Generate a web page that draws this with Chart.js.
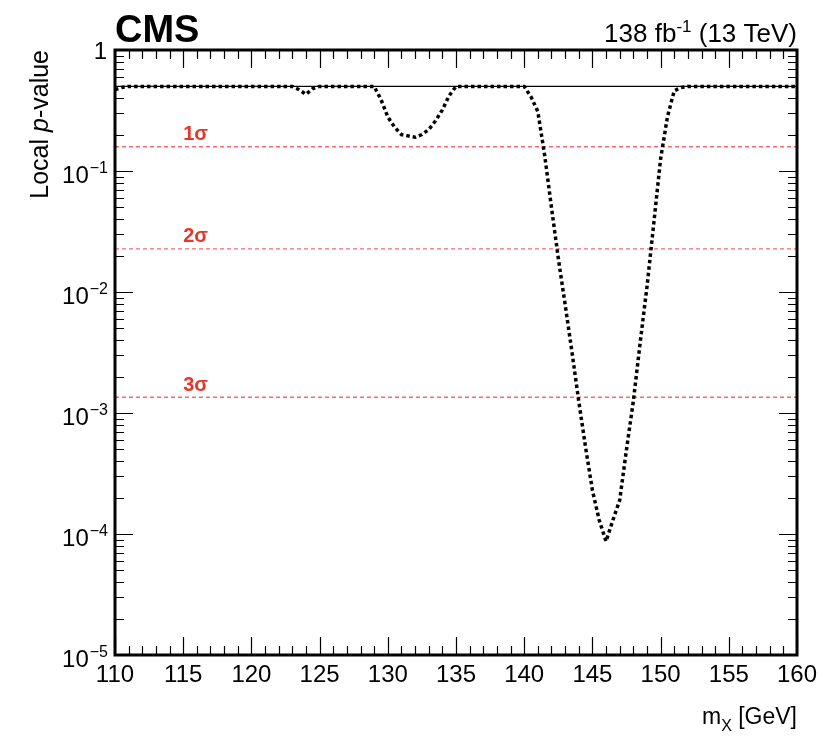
<!DOCTYPE html>
<html>
<head>
<meta charset="utf-8">
<script src="https://cdn.jsdelivr.net/npm/chart.js@4.4.1/dist/chart.umd.min.js"></script>
<style>
  html, body { margin: 0; padding: 0; background: #fff; }
  #wrap { width: 823px; height: 740px; }
</style>
</head>
<body>
<div id="wrap"><canvas id="pvalChart" width="823" height="740"></canvas></div>
<script>
// mass points (GeV) and observed local p-values
const massPoints = [
  110, 110.5, 111, 112, 113, 114, 115, 116, 117, 118, 119, 120, 121, 122, 123, 123.5, 124, 124.5,
  125, 126, 127, 128, 129, 129.5, 130, 130.5, 131, 131.5, 132, 132.5, 133, 133.5, 134, 134.5,
  135, 136, 137, 138, 139, 140, 140.5, 141, 141.5, 142, 142.5, 143, 143.5, 144, 144.5, 145, 145.5,
  146, 146.5, 147, 147.5, 148, 148.5, 149, 149.5, 150, 150.5, 151, 151.5,
  152, 153, 154, 155, 156, 157, 158, 159, 160
];
const localPValues = [
  0.47, 0.49, 0.5, 0.5, 0.5, 0.5, 0.5, 0.5, 0.5, 0.5, 0.5, 0.5, 0.5, 0.5, 0.5, 0.47, 0.43, 0.48,
  0.5, 0.5, 0.5, 0.5, 0.5, 0.39, 0.28, 0.23, 0.2, 0.195, 0.19, 0.2, 0.22, 0.26, 0.32, 0.42,
  0.5, 0.5, 0.5, 0.5, 0.5, 0.5, 0.41, 0.31, 0.135, 0.05, 0.019, 0.0079, 0.0032, 0.00125, 0.00052, 0.00023, 0.00013,
  0.000087, 0.00013, 0.00019, 0.0005, 0.00125, 0.0038, 0.011, 0.037, 0.126, 0.28, 0.46, 0.49,
  0.5, 0.5, 0.5, 0.5, 0.5, 0.5, 0.5, 0.5, 0.5
];
const expectedLine = 0.5;
const sigmaLabels = ["1\u03c3", "2\u03c3", "3\u03c3"];
const sigmaPValues = [0.1587, 0.02275, 0.00135];

const xTickLabels = [110, 115, 120, 125, 130, 135, 140, 145, 150, 155, 160];
const yTickExponents = [0, -1, -2, -3, -4, -5];

const xMin = 110, xMax = 160;
const FONT = '"Liberation Sans", Arial, Helvetica, sans-serif';

function drawSup(ctx, base, sup, xRight, y, baseSize, supSize, supRise) {
  ctx.font = supSize + "px " + FONT;
  const wSup = ctx.measureText(sup).width;
  ctx.font = baseSize + "px " + FONT;
  const wBase = ctx.measureText(base).width;
  ctx.textAlign = "left";
  ctx.fillText(base, xRight - wSup - wBase - 1, y);
  ctx.font = supSize + "px " + FONT;
  ctx.fillText(sup, xRight - wSup, y - supRise);
}

const decorPlugin = {
  id: "cmsDecor",
  afterDraw(chart) {
    const ctx = chart.ctx;
    const area = chart.chartArea;
    const xs = chart.scales.x;
    const ys = chart.scales.y;
    ctx.save();
    ctx.fillStyle = "#000";
    ctx.strokeStyle = "#000";

    // sigma labels
    ctx.fillStyle = "#e8352c";
    ctx.font = "bold 20px " + FONT;
    ctx.textAlign = "left";
    ctx.textBaseline = "alphabetic";
    sigmaLabels.forEach((lab, i) => {
      ctx.fillText(lab, xs.getPixelForValue(115), ys.getPixelForValue(sigmaPValues[i]) - 6.5);
    });
    ctx.fillStyle = "#000";

    // ticks
    ctx.lineWidth = 1.2;
    ctx.beginPath();
    for (let v = xMin; v <= xMax; v++) {
      const px = Math.round(xs.getPixelForValue(v)) + 0.5;
      const len = v % 5 === 0 ? 18 : 9;
      ctx.moveTo(px, area.bottom);
      ctx.lineTo(px, area.bottom - len);
      ctx.moveTo(px, area.top);
      ctx.lineTo(px, area.top + len);
    }
    for (let e = -5; e <= 0; e++) {
      for (let m = 1; m <= 9; m++) {
        const val = m * Math.pow(10, e);
        if (val > 1) break;
        const py = Math.round(ys.getPixelForValue(val)) + 0.5;
        const len = m === 1 ? 18 : 9;
        ctx.moveTo(area.left, py);
        ctx.lineTo(area.left + len, py);
        ctx.moveTo(area.right, py);
        ctx.lineTo(area.right - len, py);
      }
    }
    ctx.stroke();

    // frame
    ctx.lineWidth = 3;
    ctx.strokeRect(area.left, area.top, area.right - area.left, area.bottom - area.top);

    // x tick labels
    ctx.font = "24px " + FONT;
    ctx.textAlign = "center";
    xTickLabels.forEach(v => {
      ctx.fillText(String(v), xs.getPixelForValue(v), 682);
    });

    // y tick labels
    yTickExponents.forEach(e => {
      const py = ys.getPixelForValue(Math.pow(10, e));
      if (e === 0) {
        ctx.font = "24px " + FONT;
        ctx.textAlign = "right";
        ctx.fillText("1", 107, py + 9);
      } else {
        drawSup(ctx, "10", "\u2212" + Math.abs(e), 108, py + 12, 24, 16, 10);
      }
    });

    // CMS label
    ctx.font = "bold 38px " + FONT;
    ctx.textAlign = "left";
    ctx.fillText("CMS", area.left, 42);

    // luminosity label
    ctx.font = "26px " + FONT;
    const tail = " (13 TeV)";
    const head = "138 fb";
    const wTail = ctx.measureText(tail).width;
    const wHead = ctx.measureText(head).width;
    ctx.font = "17px " + FONT;
    const wSup = ctx.measureText("-1").width;
    let x0 = area.right - wTail - wSup - wHead;
    ctx.font = "26px " + FONT;
    ctx.fillText(head, x0, 42);
    ctx.font = "17px " + FONT;
    ctx.fillText("-1", x0 + wHead, 32);
    ctx.font = "26px " + FONT;
    ctx.fillText(tail, x0 + wHead + wSup, 42);

    // x axis title
    ctx.font = "23px " + FONT;
    const wRest = ctx.measureText(" [GeV]").width;
    const wM = ctx.measureText("m").width;
    ctx.font = "16px " + FONT;
    const wX = ctx.measureText("X").width;
    x0 = area.right - wRest - wX - wM;
    ctx.font = "23px " + FONT;
    ctx.fillText("m", x0, 724);
    ctx.font = "16px " + FONT;
    ctx.fillText("X", x0 + wM, 731);
    ctx.font = "23px " + FONT;
    ctx.fillText(" [GeV]", x0 + wM + wX, 724);

    // y axis title
    ctx.translate(48, area.top);
    ctx.rotate(-Math.PI / 2);
    ctx.font = "25px " + FONT;
    const wLocal = ctx.measureText("Local ").width;
    const wVal = ctx.measureText("-value").width;
    ctx.font = "italic 25px " + FONT;
    const wP = ctx.measureText("p").width;
    let t0 = -(wLocal + wP + wVal);
    ctx.font = "25px " + FONT;
    ctx.fillText("Local ", t0, 0);
    ctx.font = "italic 25px " + FONT;
    ctx.fillText("p", t0 + wLocal, 0);
    ctx.font = "25px " + FONT;
    ctx.fillText("-value", t0 + wLocal + wP, 0);

    ctx.restore();
  }
};

function createPValueChart(canvasId) {
  const canvas = document.getElementById(canvasId);
  if (!canvas) {
    console.error(`Canvas element with id "${canvasId}" not found.`);
    return;
  }
  const curve = massPoints.map((m, i) => ({ x: m, y: localPValues[i] }));
  const sigmaSets = sigmaPValues.map((p, i) => ({
    label: sigmaLabels[i],
    data: [{ x: xMin, y: p }, { x: xMax, y: p }],
    borderColor: "rgba(242, 100, 100, 0.95)",
    borderWidth: 1.3,
    borderDash: [4, 3],
    pointRadius: 0,
  }));
  new Chart(canvas, {
    type: "line",
    data: {
      datasets: [
        {
          label: "Observed",
          data: curve,
          borderColor: "#000",
          borderWidth: 3.5,
          borderDash: [3.5, 3],
          pointRadius: 0,
          tension: 0,
        },
        {
          label: "0.5",
          data: [{ x: xMin, y: expectedLine }, { x: xMax, y: expectedLine }],
          borderColor: "#000",
          borderWidth: 1.2,
          pointRadius: 0,
        },
        ...sigmaSets,
      ],
    },
    options: {
      responsive: false,
      devicePixelRatio: 1,
      animation: false,
      layout: { padding: { left: 115, right: 26, top: 50, bottom: 85 } },
      plugins: {
        legend: { display: false },
        tooltip: { enabled: false },
        title: { display: false },
      },
      scales: {
        x: { type: "linear", min: xMin, max: xMax, display: false },
        y: { type: "logarithmic", min: 1e-5, max: 1, display: false },
      },
    },
    plugins: [decorPlugin],
  });
}
createPValueChart("pvalChart");
</script>
</body>
</html>
